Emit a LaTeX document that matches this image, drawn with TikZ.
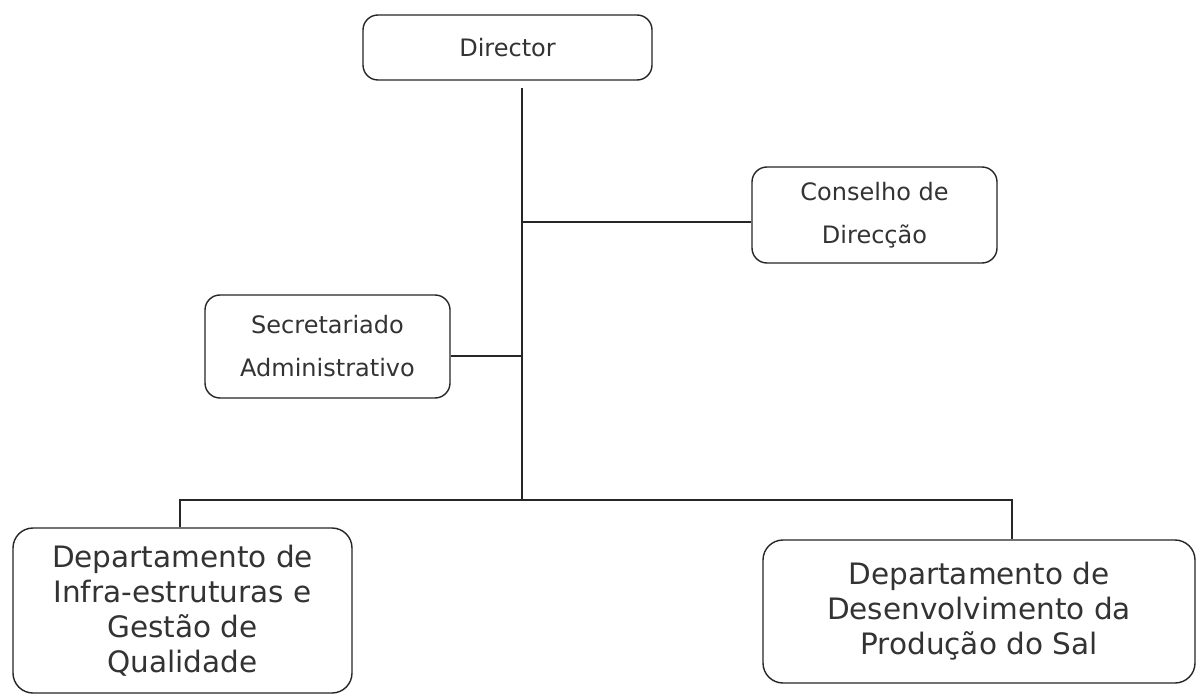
\documentclass[tikz,border=0pt]{standalone}
\usepackage{fontspec}
\setmainfont{DejaVu Sans}
\begin{document}
\begin{tikzpicture}[x=1pt,y=-1pt,
  line width=1.4pt, draw=black!85,
  box/.style={draw, rounded corners=15pt, align=center, text=black!80, inner sep=0pt},
  small/.style={box, font=\fontsize{24}{43}\selectfont},
  big/.style={box, rounded corners=20pt, font=\fontsize{29.5}{35}\selectfont},
  link/.style={line width=1.3pt}]
\useasboundingbox (0,0) rectangle (1197,695);
\fill[white] (0,0) rectangle (1197,695);
\node[small, minimum width=289pt, minimum height=65pt] (dir) at (507.5,47.5) {Director};
\node[small, minimum width=245pt, minimum height=96pt] (cons) at (874.5,215) {Conselho de\\Direcção};
\node[small, minimum width=245pt, minimum height=103pt] (sec) at (327.5,346.5) {Secretariado\\Administrativo};
\node[big, minimum width=339pt, minimum height=165pt] (dl) at (182.5,610.5) {Departamento de\\Infra-estruturas e\\Gestão de\\Qualidade};
\node[big, minimum width=432pt, minimum height=143pt] (dr) at (979,611.5) {Departamento de\\Desenvolvimento da\\Produção do Sal};
\coordinate (top) at (522,88);
\coordinate (bus) at (522,500);
\draw[link] (top) -- (bus);
\draw[link] ([yshift=-7pt]cons.west) -- ([yshift=-7pt]cons.west -| bus);
\draw[link] ([yshift=-9.5pt]sec.east) -- ([yshift=-9.5pt]sec.east -| bus);
\draw[link] ([xshift=-2.5pt]dl.north) |- (bus) -| ([xshift=33pt]dr.north);
\end{tikzpicture}
\end{document}
